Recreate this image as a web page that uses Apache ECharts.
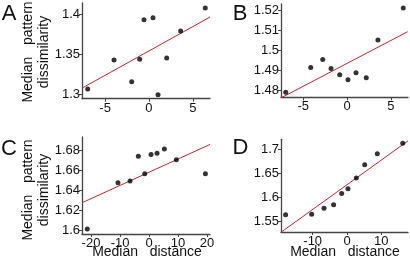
<!DOCTYPE html>
<html>
<head>
<meta charset="utf-8">
<script src="https://cdn.jsdelivr.net/npm/echarts@6/dist/echarts.min.js"></script>
<style>
html, body { margin: 0; padding: 0; background: #fff; }
#chart { width: 410px; height: 264px; }
</style>
</head>
<body>
<div id="chart"></div>
<script>
// A
const aX = [-6.99, -3.99, -1.97, -1.06, -0.57, 0.46, 1.03, 2.02, 3.61, 6.42];
const aY = [1.307, 1.343, 1.316, 1.344, 1.393, 1.3955, 1.300, 1.3455, 1.379, 1.4075];
const aFitX = [-7.64, 6.96];
const aFitY = [1.3081, 1.3963];
const aTicksX = [-5, 0, 5];
const aTicksY = [1.3, 1.35, 1.4];
// B
const bX = [-6.99, -4.14, -2.77, -1.82, -0.83, 0.11, 1.03, 2.2, 3.53, 6.42];
const bY = [1.479, 1.4913, 1.4953, 1.4908, 1.4877, 1.4853, 1.4887, 1.4863, 1.505, 1.521];
const bFitX = [-7.53, 6.92];
const bFitY = [1.4762, 1.5092];
const bTicksX = [-5, 0, 5];
const bTicksY = [1.48, 1.49, 1.5, 1.51, 1.52];
// C
const cX = [-21.3, -10.7, -6.55, -3.69, -1.48, 0.69, 2.76, 5.28, 9.41, 19.41];
const cY = [1.6017, 1.6475, 1.6492, 1.6737, 1.6564, 1.6756, 1.6769, 1.6809, 1.6703, 1.6564];
const cFitX = [-23.1, 21.0];
const cFitY = [1.6277, 1.6855];
const cTicksX = [-20, -10, 0, 10, 20];
const cTicksY = [1.6, 1.62, 1.64, 1.66, 1.68];
// D
const dX = [-17.9, -10.3, -6.7, -3.9, -1.55, 0.29, 2.71, 5.16, 8.83, 16.24];
const dY = [1.5646, 1.5654, 1.578, 1.5854, 1.609, 1.6188, 1.641, 1.6688, 1.6917, 1.7133];
const dFitX = [-19.24, 17.78];
const dFitY = [1.528, 1.7184];
const dTicksX = [-10, 0, 10];
const dTicksY = [1.55, 1.6, 1.65, 1.7];

const axisColor = '#444'
const tickFont = "'Liberation Sans Narrow', 'Liberation Sans', Arial, sans-serif"
const nameFont = "'Liberation Sans', Arial, sans-serif"

const zip = (xs, ys) => xs.map((x, i) => [x, ys[i]])

function xAxisFor(grid, min, max, ticks) {
    return {
        type: 'value', gridIndex: grid, min: min, max: max,
        axisLine: { show: true, onZero: false, lineStyle: { color: axisColor, width: 1.3 } },
        axisTick: { show: true, length: 3, customValues: ticks, lineStyle: { color: axisColor } },
        axisLabel: { customValues: ticks, margin: 3, color: '#111', fontSize: 13, fontFamily: tickFont },
        splitLine: { show: false }
    }
}

function yAxisFor(grid, min, max, ticks) {
    return {
        type: 'value', gridIndex: grid, min: min, max: max,
        axisLine: { show: true, onZero: false, lineStyle: { color: axisColor, width: 1.3 } },
        axisTick: { show: true, length: 3, customValues: ticks, lineStyle: { color: axisColor } },
        axisLabel: { customValues: ticks, margin: 2, color: '#111', fontSize: 13, fontFamily: tickFont },
        splitLine: { show: false }
    }
}

function seriesFor(idx, xs, ys, fx, fy) {
    return [
        {
            type: 'line', xAxisIndex: idx, yAxisIndex: idx,
            data: zip(fx, fy), showSymbol: false, silent: true,
            lineStyle: { color: '#c0282e', width: 1 }, z: 1
        },
        {
            type: 'scatter', xAxisIndex: idx, yAxisIndex: idx,
            data: zip(xs, ys), symbolSize: 5,
            itemStyle: { color: '#000' }, z: 2
        }
    ]
}

function label(text, x, y, size, rot) {
    return {
        type: 'text', x: x, y: y, rotation: rot || 0,
        style: {
            text: text, fill: '#111', font: size + 'px ' + nameFont,
            textAlign: 'center', textVerticalAlign: 'middle',
            align: 'center', verticalAlign: 'middle', lineHeight: 16
        }
    }
}

const chart = echarts.init(document.getElementById('chart'))

chart.setOption({
    backgroundColor: '#fff',
    animation: false,
    grid: [
        { left: 82, top: 3, width: 128, height: 95.7 },
        { left: 281, top: 4, width: 127, height: 93.3 },
        { left: 82, top: 137, width: 128, height: 97 },
        { left: 281, top: 139.3, width: 127, height: 92.7 }
    ],
    xAxis: [
        xAxisFor(0, -7.64, 6.96, aTicksX),
        xAxisFor(1, -7.53, 6.96, bTicksX),
        xAxisFor(2, -23.1, 21.0, cTicksX),
        xAxisFor(3, -19.24, 17.78, dTicksX)
    ],
    yAxis: [
        yAxisFor(0, 1.295, 1.41375, aTicksY),
        yAxisFor(1, 1.4765, 1.523, bTicksY),
        yAxisFor(2, 1.5967, 1.6929, cTicksY),
        yAxisFor(3, 1.5285, 1.7217, dTicksY)
    ],
    series: [
        ...seriesFor(0, aX, aY, aFitX, aFitY),
        ...seriesFor(1, bX, bY, bFitX, bFitY),
        ...seriesFor(2, cX, cY, cFitX, cFitY),
        ...seriesFor(3, dX, dY, dFitX, dFitY)
    ],
    graphic: [
        label('A', 9, 14, 22),
        label('B', 240, 13.5, 22),
        label('C', 9, 148.5, 22),
        label('D', 240.5, 148, 22),
        label('Median   pattern\ndissimilarity', 36, 52, 14, Math.PI / 2),
        label('Median   pattern\ndissimilarity', 36, 190, 14, Math.PI / 2),
        label('Median   distance', 147, 252.5, 14),
        label('Median   distance', 345, 252.5, 14)
    ]
})

window.addEventListener('resize', () => chart.resize())
</script>
</body>
</html>
